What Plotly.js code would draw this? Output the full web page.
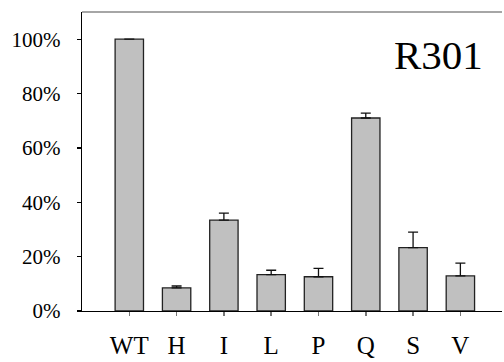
<!DOCTYPE html>
<html>
<head>
<meta charset="utf-8">
<script src="https://cdn.plot.ly/plotly-3.0.1.min.js"></script>
<style>html,body{margin:0;padding:0;background:#fff;}#chart{width:504px;height:362px;}
#fontwarm{position:absolute;left:-2000px;top:0;font-family:'Liberation Serif';font-size:21px;}</style>
</head>
<body>
<div id="fontwarm">WT H I L P Q S V 0% 20% 40% 60% 80% 100% R301</div>
<div id="chart"></div>
<script>
const categories = ["WT", "H", "I", "L", "P", "Q", "S", "V"];
const values = [100, 8.5, 33.4, 13.4, 12.6, 71.0, 23.3, 12.9];
const errorsUp = [0, 0.7, 2.6, 1.6, 3.1, 1.8, 5.7, 4.7];
const yTickVals = [0, 20, 40, 60, 80, 100];
const yTickText = ["0%", "20%", "40%", "60%", "80%", "100%"];
const panelLabel = "R301";

const trace = {
  type: "bar",
  x: categories,
  y: values,
  width: 0.6,
  marker: {color: "#c0c0c0", line: {color: "#222", width: 1.3}},
  error_y: {
    type: "data", symmetric: false,
    array: errorsUp, arrayminus: errorsUp.map(() => 0),
    color: "#111", thickness: 1.3, width: 5, visible: true
  },
  hoverinfo: "none"
};

const layout = {
  width: 504, height: 362,
  margin: {l: 82, r: 2, t: 12, b: 51},
  paper_bgcolor: "#fff", plot_bgcolor: "#fff",
  showlegend: false,
  font: {family: "Liberation Serif", color: "#000", size: 21},
  xaxis: {
    type: "category",
    range: [-1, 7.88],
    showgrid: false, zeroline: false,
    showline: true, linecolor: "#000", linewidth: 1.3,
    ticks: "outside", ticklen: 4, tickcolor: "#777", tickwidth: 1.5,
    tickfont: {size: 25, family: "Liberation Serif"},
    ticklabelstandoff: 8
  },
  yaxis: {
    range: [0, 110],
    tickvals: yTickVals, ticktext: yTickText,
    showgrid: false, zeroline: false,
    showline: true, linecolor: "#000", linewidth: 1.3,
    ticks: "outside", ticklen: 4, tickcolor: "#000", tickwidth: 1.3,
    tickfont: {size: 21, family: "Liberation Serif"},
    ticklabelstandoff: 12
  },
  shapes: [{
    type: "line", xref: "paper", yref: "paper",
    x0: 0, x1: 1, y0: 1, y1: 1,
    line: {color: "#888", width: 1.3}
  }],
  annotations: [{
    text: panelLabel, xref: "paper", yref: "paper",
    x: 0.848, y: 0.856, xanchor: "center", yanchor: "middle",
    showarrow: false,
    font: {size: 41, family: "Liberation Serif"}
  }]
};

Plotly.newPlot("chart", [trace], layout, {staticPlot: true, displayModeBar: false});
</script>
</body>
</html>
